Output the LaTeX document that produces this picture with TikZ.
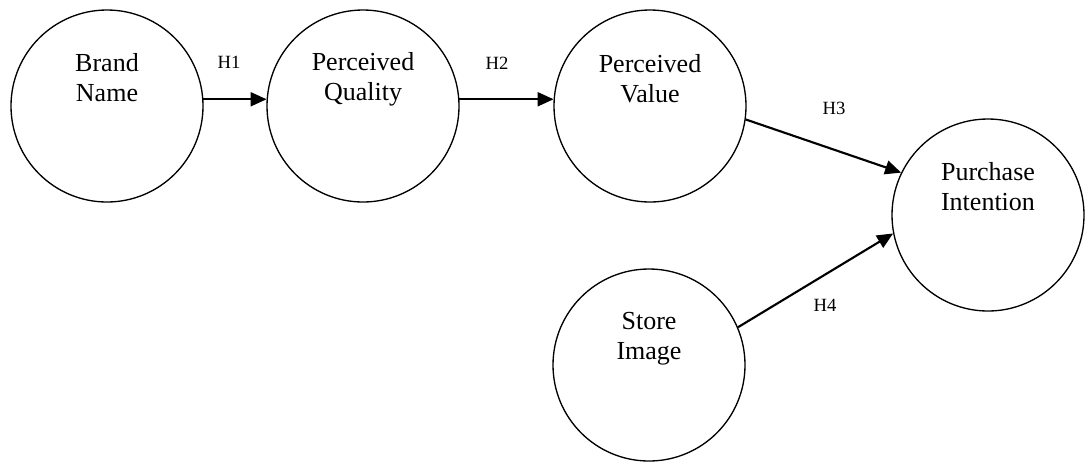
\documentclass[tikz,border=0pt]{standalone}
\usepackage{fontspec}
\setmainfont{Liberation Serif}
\usetikzlibrary{arrows.meta}
\begin{document}
\begin{tikzpicture}[x=0.75pt, y=-0.75pt, line width=1pt,
		main/.style = {draw, circle, minimum size=144pt, inner sep=0pt},
		txt/.style = {align=center, inner sep=0pt, font=\fontsize{19.5}{22.5}\selectfont},
		hyp/.style = {inner sep=0pt, font=\fontsize{14}{16}\selectfont},
		link/.style = {line width=1.6pt, -{Triangle[length=12pt, width=10.5pt]}}]
		\useasboundingbox (0,0) rectangle (1085,462);
		% constructs
		\node[main] (bn) at (107,106) {};
		\node[main] (pq) at (363,106) {};
		\node[main] (pv) at (650,106) {};
		\node[main] (pi) at (988,215) {};
		\node[main] (si) at (649,365) {};
		\node[txt] (bnt) at (107,78) {Brand\\Name};
		\node[txt] (pqt) at (363,79) {Perceived\\Quality};
		\node[txt] (pvt) at (650,79) {Perceived\\Value};
		\node[txt] (pit) at (988,187) {Purchase\\Intention};
		\node[txt] (sit) at (649,339) {Store\\Image};
		% hypotheses
		\draw[link] (bn.4) -- (pq.176);
		\draw[link] (pq.4) -- (pv.176);
		\draw[link] (pv.-8) -- (pi.154);
		\draw[link] (si.23) -- (pi.191);
		\node[hyp] (h1) at (229,62) {H1};
		\node[hyp] (h2) at (497,63) {H2};
		\node[hyp] (h3) at (834,108) {H3};
		\node[hyp] (h4) at (825,305) {H4};
\end{tikzpicture}
\end{document}
